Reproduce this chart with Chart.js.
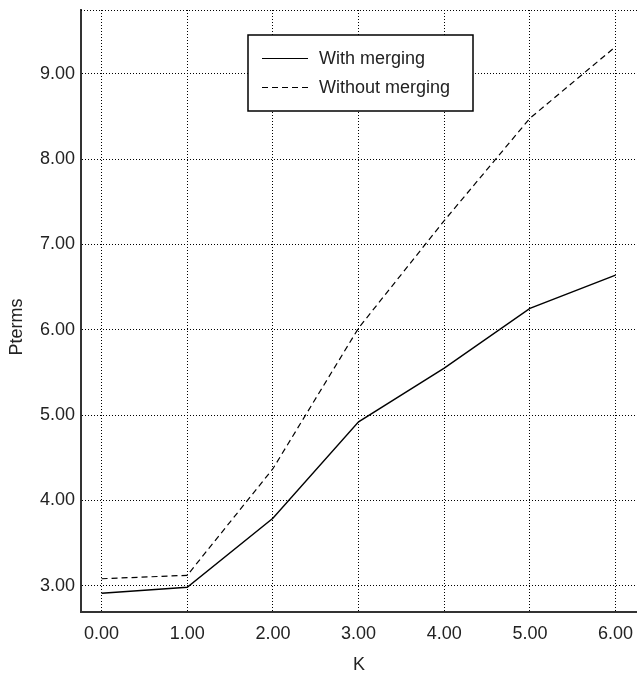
<!DOCTYPE html>
<html>
<head>
<meta charset="utf-8">
<script src="https://cdn.jsdelivr.net/npm/chart.js@4.4.1/dist/chart.umd.min.js"></script>
<style>
  html, body { margin: 0; padding: 0; background: #fff; }
  #wrap { width: 637px; height: 675px; position: relative; }
</style>
</head>
<body>
<div id="wrap"><canvas id="c"></canvas></div>
<script>
const categories = [0, 1, 2, 3, 4, 5, 6];
const withMerging = [2.91, 2.98, 3.79, 4.92, 5.55, 6.25, 6.64];
const withoutMerging = [3.08, 3.12, 4.37, 6.02, 7.28, 8.48, 9.32];
const xTicks = [0, 1, 2, 3, 4, 5, 6];
const yTicks = [3, 4, 5, 6, 7, 8, 9];
const seriesLabels = ['With merging', 'Without merging'];
const xTitle = 'K';
const yTitle = 'Pterms';

const FONT = '"Liberation Sans", Arial, sans-serif';
const TXT = '#222';

const toPoints = (arr) => categories.map((x, i) => ({ x: x, y: arr[i] }));

const decor = {
  id: 'decor',
  afterDraw(chart) {
    const ctx = chart.ctx;
    const a = chart.chartArea;
    ctx.save();
    // dotted top border
    ctx.strokeStyle = '#000';
    ctx.lineWidth = 1;
    ctx.setLineDash([1, 2]);
    ctx.beginPath();
    ctx.moveTo(a.left, a.top + 0.5);
    ctx.lineTo(a.right, a.top + 0.5);
    ctx.stroke();
    ctx.setLineDash([]);

    // axis titles
    ctx.fillStyle = TXT;
    ctx.font = '18px ' + FONT;
    ctx.textAlign = 'center';
    ctx.textBaseline = 'middle';
    ctx.fillText(xTitle, (a.left + a.right) / 2, 665);
    ctx.save();
    ctx.translate(17, 327);
    ctx.rotate(-Math.PI / 2);
    ctx.fillText(yTitle, 0, 0);
    ctx.restore();

    // legend box
    const bx = 248, by = 35, bw = 225, bh = 76;
    ctx.fillStyle = '#fff';
    ctx.fillRect(bx, by, bw, bh);
    ctx.strokeStyle = '#000';
    ctx.lineWidth = 1.5;
    ctx.strokeRect(bx, by, bw, bh);
    const rows = [58, 87];
    chart.data.datasets.forEach((ds, i) => {
      const y = rows[i];
      ctx.strokeStyle = '#000';
      ctx.lineWidth = 1.2;
      ctx.setLineDash(ds.borderDash || []);
      ctx.beginPath();
      ctx.moveTo(262, y + 0.5);
      ctx.lineTo(308, y + 0.5);
      ctx.stroke();
      ctx.setLineDash([]);
      ctx.fillStyle = TXT;
      ctx.font = '18px ' + FONT;
      ctx.textAlign = 'left';
      ctx.textBaseline = 'middle';
      ctx.fillText(ds.label, 319, y + 1);
    });
    ctx.restore();
  }
};

new Chart(document.getElementById('c'), {
  type: 'line',
  data: {
    datasets: [
      {
        label: seriesLabels[0],
        data: toPoints(withMerging),
        borderColor: '#000',
        borderWidth: 1.4,
        pointRadius: 0,
        tension: 0,
        fill: false
      },
      {
        label: seriesLabels[1],
        data: toPoints(withoutMerging),
        borderColor: '#000',
        borderWidth: 1.2,
        borderDash: [6, 4],
        pointRadius: 0,
        tension: 0,
        fill: false
      }
    ]
  },
  options: {
    responsive: true,
    maintainAspectRatio: false,
    animation: false,
    devicePixelRatio: 1,
    layout: { padding: { top: 10, right: 0, left: 0, bottom: 0 } },
    plugins: {
      legend: { display: false },
      tooltip: { enabled: false },
      title: { display: false }
    },
    scales: {
      x: {
        type: 'linear',
        min: -0.24,
        max: 6.25,
        afterBuildTicks: (s) => { s.ticks = xTicks.map(v => ({ value: v })); },
        afterFit: (s) => { s.height = 63; s.paddingLeft = 0; s.paddingRight = 0; },
        grid: { color: '#000', lineWidth: 1, drawTicks: false },
        border: { display: true, color: '#333', width: 2, dash: [1, 2] },
        ticks: {
          color: TXT,
          font: { family: FONT, size: 18 },
          padding: 11,
          maxRotation: 0,
          autoSkip: false,
          callback: (v) => Number(v).toFixed(2)
        },
        title: { display: false }
      },
      y: {
        type: 'linear',
        min: 2.69,
        max: 9.75,
        afterBuildTicks: (s) => { s.ticks = yTicks.map(v => ({ value: v })); },
        afterFit: (s) => { s.width = 81; s.paddingTop = 0; s.paddingBottom = 0; },
        grid: { color: '#000', lineWidth: 1, drawTicks: false },
        border: { display: true, color: '#333', width: 2, dash: [1, 2] },
        ticks: {
          color: TXT,
          font: { family: FONT, size: 18 },
          padding: 6,
          autoSkip: false,
          callback: (v) => Number(v).toFixed(2)
        },
        title: { display: false }
      }
    }
  },
  plugins: [decor]
});
</script>
</body>
</html>
